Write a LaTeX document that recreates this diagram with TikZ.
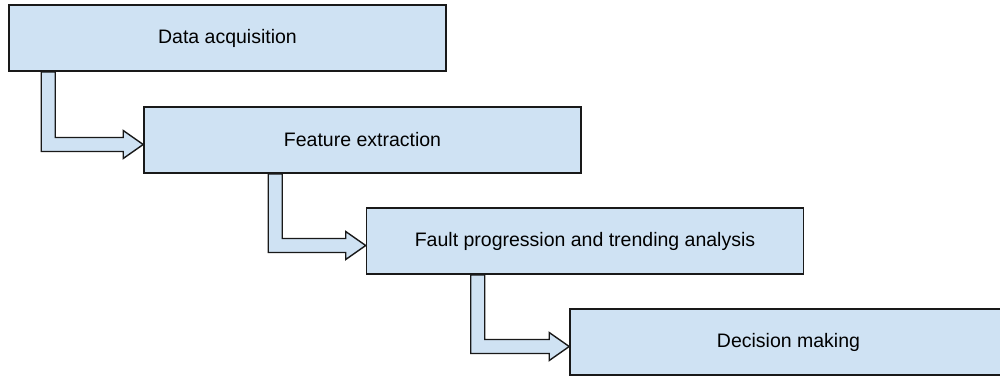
\documentclass[tikz,border=0pt]{standalone}
\usepackage{fontspec}
\setmainfont{Liberation Sans}
\usetikzlibrary{calc}
\definecolor{stagefill}{HTML}{CFE2F3}
\newcommand{\stepflow}[3]{% from, to, shaft offset
	\draw[flow] let \p1=(#1.south west), \p2=(#2.west) in
		(\x1+#3pt,\y1) -- (\x1+#3pt+14pt,\y1) -- (\x1+#3pt+14pt,\y2+2.5pt)
		-- (\x2-20pt,\y2+2.5pt) -- (\x2-20pt,\y2+9.5pt) -- (\x2,\y2-4.5pt)
		-- (\x2-20pt,\y2-18.5pt) -- (\x2-20pt,\y2-11.5pt) -- (\x1+#3pt,\y2-11.5pt) -- cycle;}
\begin{document}
\begin{tikzpicture}[x=1pt, y=-1pt, line join=miter, font=\fontsize{19.5}{23}\selectfont]
			\tikzset{stage/.style={draw=black!90, fill=stagefill, line width=1.6pt, minimum width=437pt, minimum height=66pt, inner sep=0pt},
				flow/.style={draw=black!90, fill=stagefill, line width=1.4pt}}
			\clip (0,0) rectangle (1000,376);
			\node[stage] (acq) at (227.5,38) {Data acquisition};
			\node[stage] (feat) at (362.5,140) {Feature extraction};
			\node[stage] (trend) at (585,241) {Fault progression and trending analysis};
			\node[stage] (dec) at (788.5,342) {Decision making};
			\stepflow{acq}{feat}{33}
			\stepflow{feat}{trend}{125}
			\stepflow{trend}{dec}{105}
		\end{tikzpicture}
\end{document}
